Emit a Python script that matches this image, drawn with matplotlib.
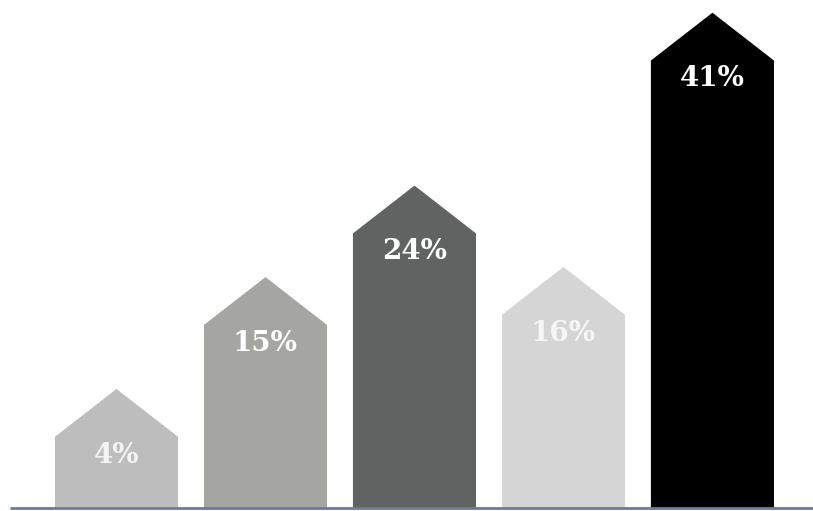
import matplotlib.pyplot as plt
from matplotlib.patches import Polygon

# data
labels = ['4%', '15%', '24%', '16%', '41%']
values = [4, 15, 24, 16, 41]
colors = ['#bdbdbd', '#a5a5a1', '#616362', '#d5d5d5', '#000000']
text_colors = ['#f4f4f4', '#ffffff', '#ffffff', '#f6f6f6', '#ffffff']

floor = -3.0      # bars start a little below zero, like the infographic
roof = 4.7        # height of the pointed top
width = 0.826

fig = plt.figure(figsize=(8.13, 5.11), dpi=100)
ax = fig.add_axes([0, 0, 1, 1])
ax.set_xlim(-0.782, 4.675)
ax.set_ylim(-3.3, 46.95)
ax.axis('off')

for i, (v, c) in enumerate(zip(values, colors)):
    pts = [(i - width / 2, floor), (i + width / 2, floor), (i + width / 2, v),
           (i, v + roof), (i - width / 2, v)]
    ax.add_patch(Polygon(pts, closed=True, facecolor=c, edgecolor='none'))
    ax.text(i, v - 1.8, labels[i], ha='center', va='center', color=text_colors[i],
            fontsize=20, fontweight='bold', family='DejaVu Serif')

# baseline
ax.plot([-0.715, 4.675], [floor, floor], color='#6a7c9c', lw=2, solid_capstyle='butt')

plt.savefig('out.png', dpi=100)
